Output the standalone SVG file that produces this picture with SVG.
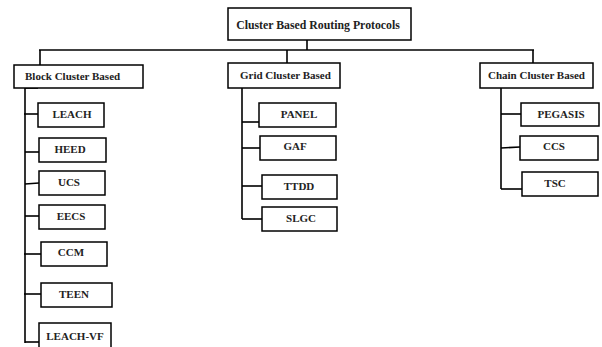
<svg xmlns="http://www.w3.org/2000/svg" width="602" height="347" viewBox="0 0 602 347">
<style>
rect{fill:#fff;stroke:#000;stroke-width:1.5}
.c line{stroke:#000;stroke-width:1.6}
text{font-family:"Liberation Serif","Times New Roman",serif;font-size:11px;font-weight:bold;fill:#222}
.m{text-anchor:middle}
</style>
<rect x="0" y="0" width="602" height="347" style="fill:#fff;stroke:none"/>
<g class="c" id="connectors">
<line x1="307" y1="40" x2="307" y2="50"/>
<line x1="39" y1="50" x2="534" y2="50"/>
<line x1="40" y1="50" x2="40" y2="65"/>
<line x1="287" y1="50" x2="287" y2="63"/>
<line x1="533" y1="50" x2="533" y2="63"/>
<line x1="25" y1="88" x2="25" y2="343"/>
<line x1="25" y1="88" x2="38" y2="88"/>
<line x1="24" y1="114" x2="38" y2="114"/>
<line x1="25" y1="152" x2="39" y2="152"/>
<line x1="25" y1="184" x2="39" y2="183"/>
<line x1="25" y1="216" x2="39" y2="216"/>
<line x1="24" y1="254" x2="41" y2="254"/>
<line x1="24" y1="294" x2="41" y2="294"/>
<line x1="25" y1="342" x2="39" y2="342"/>
<line x1="242" y1="88" x2="242" y2="219"/>
<line x1="242" y1="122" x2="259" y2="122"/>
<line x1="242" y1="148" x2="260" y2="148"/>
<line x1="242" y1="186" x2="262" y2="186"/>
<line x1="242" y1="219" x2="262" y2="219"/>
<line x1="501" y1="88" x2="501" y2="189"/>
<line x1="501" y1="114" x2="521" y2="114"/>
<line x1="501" y1="148" x2="520" y2="147"/>
<line x1="501" y1="189" x2="522" y2="189"/>
</g>
<g id="root"><rect x="228" y="8" width="183" height="32"/><text x="318" y="29" class="m" style="font-size:11.8px">Cluster Based Routing Protocols</text></g>
<g id="block"><rect x="14" y="65" width="129" height="23"/><text x="25" y="80">Block Cluster Based</text></g>
<g id="grid"><rect x="228" y="63" width="112" height="25"/><text x="240" y="79">Grid Cluster Based</text></g>
<g id="chain"><rect x="480" y="63" width="113" height="25"/><text x="488" y="79">Chain Cluster Based</text></g>
<g id="leach"><rect x="38" y="103" width="66" height="24"/><text x="72" y="118" class="m">LEACH</text></g>
<g id="heed"><rect x="39" y="138" width="67" height="24"/><text x="70" y="153" class="m">HEED</text></g>
<g id="ucs"><rect x="39" y="171" width="66" height="24"/><text x="69" y="186" class="m">UCS</text></g>
<g id="eecs"><rect x="39" y="205" width="66" height="24"/><text x="71" y="220" class="m">EECS</text></g>
<g id="ccm"><rect x="41" y="242" width="66" height="24"/><text x="71" y="256" class="m">CCM</text></g>
<g id="teen"><rect x="41" y="283" width="71" height="24"/><text x="74" y="298" class="m">TEEN</text></g>
<g id="leachvf"><rect x="39" y="323" width="72" height="26"/><text x="75" y="340" class="m">LEACH-VF</text></g>
<g id="panel"><rect x="259" y="103" width="77" height="24"/><text x="299" y="118" class="m">PANEL</text></g>
<g id="gaf"><rect x="260" y="136" width="76" height="24"/><text x="295" y="150" class="m">GAF</text></g>
<g id="ttdd"><rect x="262" y="175" width="75" height="24"/><text x="299" y="190" class="m">TTDD</text></g>
<g id="slgc"><rect x="262" y="207" width="75" height="24"/><text x="301" y="222" class="m">SLGC</text></g>
<g id="pegasis"><rect x="521" y="103" width="78" height="23"/><text x="561" y="118" class="m">PEGASIS</text></g>
<g id="ccs"><rect x="520" y="136" width="78" height="24"/><text x="554" y="150" class="m">CCS</text></g>
<g id="tsc"><rect x="522" y="172" width="76" height="24"/><text x="555" y="187" class="m">TSC</text></g>
</svg>
